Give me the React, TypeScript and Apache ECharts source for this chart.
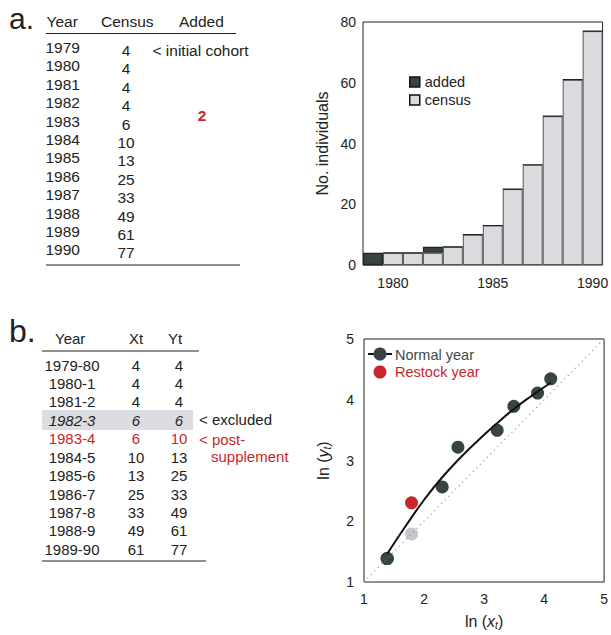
import React, { useEffect, useRef } from 'react';
import * as echarts from 'echarts';

const FONT = '"Liberation Sans", Arial, Helvetica, sans-serif';
const INK = '#222';
const RED = '#c8262b';
const DARK = '#384444';
const LIGHT = '#d9dbdf';
const PALE = '#c3c6cb';

// ---- panel a data ----
const years = ['1979', '1980', '1981', '1982', '1983', '1984', '1985', '1986', '1987', '1988', '1989', '1990'];
const census = [4, 4, 4, 4, 6, 10, 13, 25, 33, 49, 61, 77];
const censusBar = [0, 4, 4, 4, 6, 10, 13, 25, 33, 49, 61, 77];
const addedBar = [4, 0, 0, 2, 0, 0, 0, 0, 0, 0, 0, 0];
const barYTicks = [0, 20, 40, 60, 80];

// ---- panel b data ----
const periods = ['1979-80', '1980-1', '1981-2', '1982-3', '1983-4', '1984-5', '1985-6', '1986-7', '1987-8', '1988-9', '1989-90'];
const xt = [4, 4, 4, 6, 6, 10, 13, 25, 33, 49, 61];
const yt = [4, 4, 4, 6, 10, 13, 25, 33, 49, 61, 77];
const excludedIdx = 3;
const restockIdx = 4;
// fitted curve (ln units)
const curveX = [1.39, 1.7, 2.0, 2.3, 2.6, 2.9, 3.2, 3.5, 3.8, 4.11];
const curveY = [1.47, 1.93, 2.35, 2.72, 3.04, 3.33, 3.6, 3.85, 4.07, 4.28];
const diagonal = [1, 5];

const TABLE_A = 15.5;
const TABLE_B = 15;

function txt(text: string, x: number, y: number, o: any = {}) {
  const align = o.align || 'left';
  return {
    type: 'text',
    x,
    y,
    silent: true,
    style: {
      text,
      fill: o.fill || INK,
      fontSize: o.size || 14,
      fontFamily: FONT,
      fontStyle: o.italic ? 'italic' : 'normal',
      fontWeight: o.bold ? 'bold' : 'normal',
      align,
      verticalAlign: 'middle',
      textAlign: align,
      textVerticalAlign: 'middle',
    },
  };
}

function buildGraphics() {
  const g: any[] = [];
  // panel a table
  g.push(txt('a.', 9, 18, { size: 30 }));
  g.push(txt('Year', 46.5, 21, { size: TABLE_A }));
  g.push(txt('Census', 101, 21, { size: TABLE_A }));
  g.push(txt('Added', 179, 21, { size: TABLE_A }));
  g.push({ type: 'line', silent: true, shape: { x1: 46, y1: 33.5, x2: 236, y2: 33.5 }, style: { stroke: INK, lineWidth: 1 } });
  years.forEach((yr, i) => {
    const y = 47.5 + i * 18.4;
    g.push(txt(yr, 45.5, y, { size: TABLE_A }));
    g.push(txt(String(census[i]), 126, y + 3, { align: 'center', size: TABLE_A }));
  });
  g.push(txt('< initial cohort', 152.5, 50, { size: TABLE_A }));
  g.push(txt('2', 202, 115, { fill: RED, bold: true, align: 'center', size: TABLE_A }));
  g.push({ type: 'line', silent: true, shape: { x1: 46, y1: 265, x2: 240, y2: 265 }, style: { stroke: INK, lineWidth: 1 } });

  // panel b table
  g.push(txt('b.', 9, 331, { size: 32 }));
  g.push(txt('Year', 55, 338, { size: TABLE_B }));
  g.push(txt('Xt', 136, 338, { align: 'center', size: TABLE_B }));
  g.push(txt('Yt', 175, 338, { align: 'center', size: TABLE_B }));
  g.push({ type: 'line', silent: true, shape: { x1: 42, y1: 351, x2: 199, y2: 351 }, style: { stroke: INK, lineWidth: 1 } });
  g.push({ type: 'rect', silent: true, shape: { x: 42, y: 410, width: 151, height: 20 }, style: { fill: '#dcdde2' } });
  periods.forEach((p, i) => {
    const y = 365 + i * 18.43;
    const o: any = { align: 'center', size: TABLE_B };
    if (i === excludedIdx) o.italic = true;
    if (i === restockIdx) o.fill = RED;
    g.push(txt(p, 72, y, o));
    g.push(txt(String(xt[i]), 136, y, o));
    g.push(txt(String(yt[i]), 179, y, o));
  });
  g.push(txt('< excluded', 199, 419, { size: TABLE_B }));
  g.push(txt('< post-', 199, 439, { fill: RED, size: TABLE_B }));
  g.push(txt('supplement', 211, 456, { fill: RED, size: TABLE_B }));
  g.push({ type: 'line', silent: true, shape: { x1: 42, y1: 561, x2: 206, y2: 561 }, style: { stroke: INK, lineWidth: 1 } });

  // scatter legend
  g.push({ type: 'line', silent: true, shape: { x1: 368, y1: 354, x2: 392, y2: 354 }, style: { stroke: '#111', lineWidth: 2 } });
  g.push({ type: 'circle', silent: true, shape: { cx: 380, cy: 354, r: 6.5 }, style: { fill: DARK } });
  g.push(txt('Normal year', 395, 354.5, { fill: '#3e4a4a', size: 14.5 }));
  g.push({ type: 'circle', silent: true, shape: { cx: 380, cy: 372, r: 6.5 }, style: { fill: RED } });
  g.push(txt('Restock year', 395, 372, { fill: RED, size: 14.5 }));
  return g;
}

const axisNameRich = {
  n: { fontSize: 16, color: INK, fontFamily: FONT },
  i: { fontSize: 16, color: INK, fontFamily: FONT, fontStyle: 'italic' },
  s: { fontSize: 10, color: INK, fontFamily: FONT, fontStyle: 'italic', verticalAlign: 'bottom', padding: [8, 0, 0, 0] },
};

function buildOption(): any {
  const lnPts = xt.map((v, i) => [Math.log(v), Math.log(yt[i])]);
  const normalPts = lnPts.filter((_, i) => i !== excludedIdx && i !== restockIdx);
  return {
    animation: false,
    backgroundColor: '#fff',
    textStyle: { fontFamily: FONT },
    grid: [
      { left: 363, top: 22, width: 244, height: 243, show: true, borderColor: INK, borderWidth: 1, backgroundColor: 'transparent' },
      { left: 364, top: 339, width: 242, height: 243, show: true, borderColor: INK, borderWidth: 1, backgroundColor: 'transparent' },
    ],
    legend: [
      {
        data: ['added', 'census'],
        left: 409,
        top: 74,
        padding: 0,
        orient: 'vertical',
        icon: 'rect',
        itemWidth: 10,
        itemHeight: 10,
        itemGap: 2,
        itemStyle: { borderColor: '#111', borderWidth: 1.5 },
        selectedMode: false,
        textStyle: { fontSize: 14.5, color: INK, fontFamily: FONT, lineHeight: 16 },
      },
    ],
    xAxis: [
      {
        gridIndex: 0,
        type: 'category',
        data: years,
        boundaryGap: true,
        axisLine: { show: false },
        axisTick: { show: false },
        axisLabel: {
          fontSize: 14,
          color: INK,
          margin: 11,
          interval: 0,
          formatter: (v: string) => (Number(v) % 5 === 0 ? v : ''),
        },
      },
      {
        gridIndex: 1,
        type: 'value',
        min: 1,
        max: 5,
        interval: 1,
        splitLine: { show: false },
        axisLine: { show: false },
        axisTick: { show: false },
        axisLabel: { fontSize: 14, color: INK, margin: 10 },
        name: '{n|ln (}{i|x}{s|t}{n|)}',
        nameLocation: 'middle',
        nameGap: 30,
        nameTextStyle: { rich: axisNameRich },
      },
    ],
    yAxis: [
      {
        gridIndex: 0,
        type: 'value',
        min: barYTicks[0],
        max: barYTicks[barYTicks.length - 1],
        interval: 20,
        splitLine: { show: false },
        axisLine: { show: false },
        axisTick: { show: false },
        axisLabel: { fontSize: 14, color: INK, margin: 7 },
        name: 'No. individuals',
        nameLocation: 'middle',
        nameGap: 33,
        nameTextStyle: { fontSize: 16, color: INK, fontFamily: FONT },
      },
      {
        gridIndex: 1,
        type: 'value',
        min: 1,
        max: 5,
        interval: 1,
        splitLine: { show: false },
        axisLine: { show: false },
        axisTick: { show: false },
        axisLabel: { fontSize: 14, color: INK, margin: 10 },
        name: '{n|ln (}{i|y}{s|t}{n|)}',
        nameLocation: 'middle',
        nameGap: 32,
        nameTextStyle: { rich: axisNameRich },
      },
    ],
    series: [
      {
        name: 'census',
        type: 'bar',
        xAxisIndex: 0,
        yAxisIndex: 0,
        stack: 'pop',
        barCategoryGap: '0%',
        data: censusBar,
        itemStyle: { color: LIGHT, borderColor: '#555', borderWidth: 1 },
      },
      {
        name: 'added',
        type: 'bar',
        xAxisIndex: 0,
        yAxisIndex: 0,
        stack: 'pop',
        barCategoryGap: '0%',
        data: addedBar,
        itemStyle: { color: DARK, borderColor: '#222', borderWidth: 1.2 },
      },
      {
        name: 'diagonal',
        type: 'line',
        xAxisIndex: 1,
        yAxisIndex: 1,
        data: [[diagonal[0], diagonal[0]], [diagonal[1], diagonal[1]]],
        symbol: 'none',
        lineStyle: { color: '#888', width: 1.2, type: [1, 4] },
      },
      {
        name: 'fit',
        type: 'line',
        xAxisIndex: 1,
        yAxisIndex: 1,
        data: curveX.map((x, i) => [x, curveY[i]]),
        smooth: true,
        symbol: 'none',
        lineStyle: { color: '#111', width: 2 },
      },
      {
        name: 'Excluded',
        type: 'scatter',
        xAxisIndex: 1,
        yAxisIndex: 1,
        data: [lnPts[excludedIdx]],
        symbolSize: 13,
        itemStyle: { color: PALE, opacity: 1 },
      },
      {
        name: 'Normal year',
        type: 'scatter',
        xAxisIndex: 1,
        yAxisIndex: 1,
        data: normalPts,
        symbolSize: 13,
        itemStyle: { color: DARK, opacity: 1 },
      },
      {
        name: 'Restock year',
        type: 'scatter',
        xAxisIndex: 1,
        yAxisIndex: 1,
        data: [lnPts[restockIdx]],
        symbolSize: 13,
        itemStyle: { color: RED, opacity: 1 },
      },
    ],
    graphic: { elements: buildGraphics() },
  };
}

export default function App() {
  const ref = useRef<HTMLDivElement>(null);
  useEffect(() => {
    if (!ref.current) return;
    const chart = echarts.init(ref.current, null, { renderer: 'svg' });
    chart.setOption(buildOption());
    return () => chart.dispose();
  }, []);
  return (
    <div
      ref={ref}
      style={{ position: 'absolute', left: 0, top: 0, width: 611, height: 635, background: '#fff' }}
    />
  );
}
